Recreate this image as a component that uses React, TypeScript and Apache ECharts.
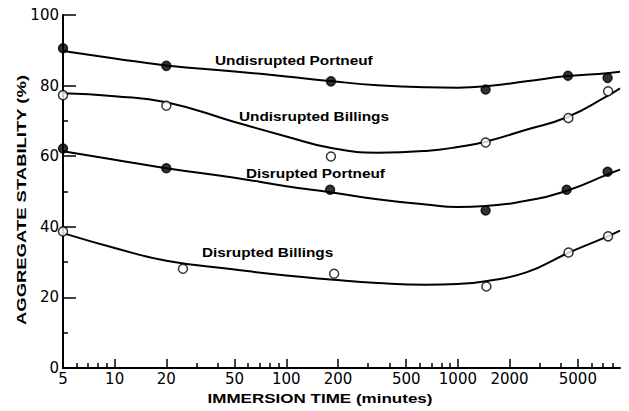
import React, { useEffect, useRef } from "react";
import * as echarts from "echarts";

// Measured points (minutes, %)
const upX = [5, 20, 182, 1450, 4380, 7450];
const upY = [90.6, 85.6, 81.2, 78.9, 82.8, 82.2];
const ubX = [5, 20, 182, 1450, 4400, 7500];
const ubY = [77.3, 74.3, 59.9, 63.9, 70.8, 78.4];
const dpX = [5, 20, 180, 1450, 4300, 7450];
const dpY = [62.2, 56.6, 50.5, 44.6, 50.5, 55.6];
const dbX = [5, 25, 190, 1465, 4410, 7500];
const dbY = [38.7, 28.1, 26.7, 23.1, 32.7, 37.3];

// Fitted curves
const curveX = [5, 10, 20, 50, 100, 180, 340, 650, 1000, 1450, 2500, 4350, 7400, 8800];
const upCurve = [89.8, 87.7, 85.7, 84.0, 82.6, 81.3, 80.1, 79.5, 79.4, 79.8, 81.2, 82.7, 83.5, 83.9];
const ubCurve = [77.8, 77.0, 75.3, 69.7, 65.6, 62.4, 61.0, 61.5, 62.6, 64.1, 67.5, 71.1, 77.0, 79.2];
const dpCurve = [61.4, 59.0, 56.6, 53.9, 51.5, 49.8, 47.8, 46.3, 45.6, 45.9, 47.4, 50.3, 54.8, 56.2];
const dbCurve = [38.2, 34.0, 30.4, 27.9, 26.2, 25.1, 24.1, 23.6, 23.8, 24.6, 27.1, 32.5, 37.2, 38.9];

const xLabels = [5, 10, 20, 50, 100, 200, 500, 1000, 2000, 5000];
const xMajorTicks = [10, 20, 50, 100, 200, 500, 1000, 2000, 5000];
const xMinorTicks = [6, 7, 8, 9, 30, 40, 60, 70, 80, 90, 300, 400, 600, 700, 800, 900, 3000, 4000, 6000, 7000, 8000];

const seriesNames = ["Undisrupted Portneuf", "Undisrupted Billings", "Disrupted Portneuf", "Disrupted Billings"];

const zip = (xs: number[], ys: number[]) => xs.map((x, i) => [x, ys[i]]);

export default function App() {
  const ref = useRef<HTMLDivElement>(null);
  useEffect(() => {
    if (!ref.current) return;
    const chart = echarts.init(ref.current, undefined, { renderer: "svg" });
    const labelFont = "DejaVu Sans";
    const annFont = "Liberation Sans";
    const curveStyle = { color: "#000", width: 2 };
    const lineSeries = (name: string, ys: number[]) => ({
      type: "line",
      name: name + " curve",
      data: zip(curveX, ys),
      smooth: 0.5,
      showSymbol: false,
      symbol: "none",
      lineStyle: curveStyle,
      z: 2,
      silent: true,
    });
    const pointSeries = (name: string, xs: number[], ys: number[], filled: boolean) => ({
      type: "scatter",
      name,
      data: zip(xs, ys),
      symbol: "circle",
      symbolSize: 9,
      itemStyle: {
        color: filled ? "#000" : "#fff",
        borderColor: "#000",
        borderWidth: 1.5,
      },
      z: 3,
    });
    const annot = (text: string, x: number, y: number) => ({
      type: "text",
      x,
      y,
      scaleX: 1.28,
      style: {
        text,
        font: `bold 12px "${annFont}"`,
        fill: "#000",
        textAlign: "left",
        textVerticalAlign: "middle",
      },
      z: 10,
    });
    chart.setOption({
      animation: false,
      backgroundColor: "#fff",
      grid: { left: 63, right: 9, top: 15, bottom: 43, containLabel: false, outerBoundsMode: "none" },
      xAxis: [
        {
          type: "log",
          logBase: 10,
          min: 5,
          max: 8800,
          axisLine: { show: true, onZero: false, lineStyle: { color: "#000", width: 2 } },
          axisTick: { show: true, inside: true, length: 9, lineStyle: { color: "#000", width: 1.5 }, customValues: xMajorTicks },
          axisLabel: {
            show: true,
            customValues: xLabels,
            formatter: (v: number) => String(Math.round(v)),
            color: "#000",
            fontFamily: labelFont,
            fontSize: 15,
            margin: 3,
            hideOverlap: false,
          },
          splitLine: { show: false },
          minorTick: { show: false },
        },
        {
          type: "log",
          logBase: 10,
          min: 5,
          max: 8800,
          position: "bottom",
          axisLine: { show: false },
          axisTick: { show: true, inside: true, length: 5, lineStyle: { color: "#000", width: 1.5 }, customValues: xMinorTicks },
          axisLabel: { show: false },
          splitLine: { show: false },
        },
      ],
      yAxis: {
        type: "value",
        min: 0,
        max: 100,
        interval: 20,
        axisLine: { show: true, lineStyle: { color: "#000", width: 2 } },
        axisTick: { show: true, inside: true, length: 13, lineStyle: { color: "#000", width: 1.5 } },
        minorTick: { show: true, splitNumber: 2, length: 5, lineStyle: { color: "#000", width: 1.5 } },
        axisLabel: { color: "#000", fontFamily: labelFont, fontSize: 15, margin: 4 },
        splitLine: { show: false },
      },
      series: [
        lineSeries(seriesNames[0], upCurve),
        lineSeries(seriesNames[1], ubCurve),
        lineSeries(seriesNames[2], dpCurve),
        lineSeries(seriesNames[3], dbCurve),
        pointSeries(seriesNames[0], upX, upY, true),
        pointSeries(seriesNames[1], ubX, ubY, false),
        pointSeries(seriesNames[2], dpX, dpY, true),
        pointSeries(seriesNames[3], dbX, dbY, false),
      ],
      graphic: [
        annot(seriesNames[0], 215, 61),
        annot(seriesNames[1], 239, 117),
        annot(seriesNames[2], 246, 174),
        annot(seriesNames[3], 202, 253),
        {
          type: "text",
          x: 320,
          y: 399,
          scaleX: 1.42,
          style: {
            text: "IMMERSION TIME (minutes)",
            font: `bold 12px "${annFont}"`,
            fill: "#000",
            textAlign: "center",
            textVerticalAlign: "middle",
          },
        },
        {
          type: "text",
          x: 22,
          y: 200,
          rotation: Math.PI / 2,
          scaleX: 1.42,
          style: {
            text: "AGGREGATE STABILITY (%)",
            font: `bold 13px "${annFont}"`,
            fill: "#000",
            textAlign: "center",
            textVerticalAlign: "middle",
          },
        },
      ],
    });
    return () => chart.dispose();
  }, []);
  return <div ref={ref} style={{ width: 629, height: 411, position: "absolute", left: 0, top: 0 }} />;
}
